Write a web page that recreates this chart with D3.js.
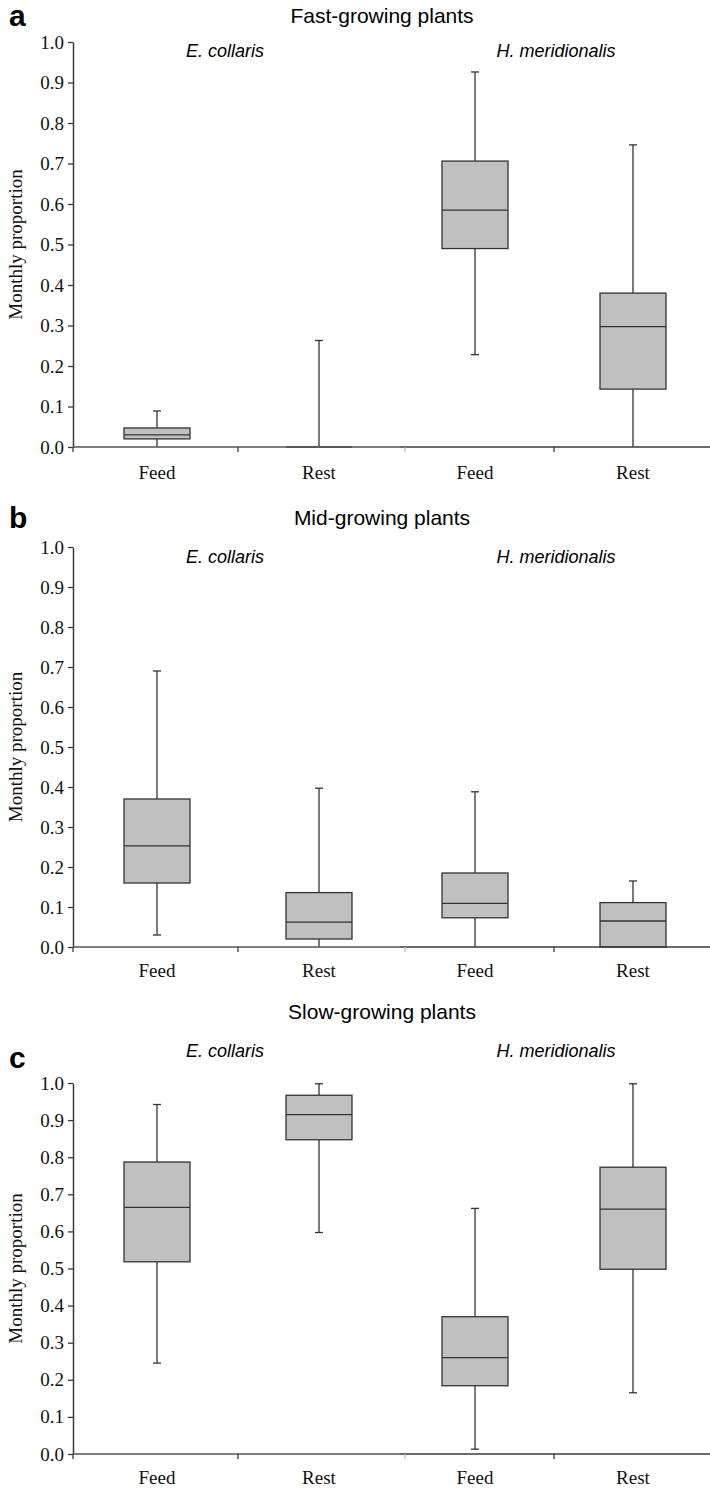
<!DOCTYPE html>
<html>
<head>
<meta charset="utf-8">
<script src="https://cdn.jsdelivr.net/npm/d3@7/dist/d3.min.js"></script>
<style>
  html, body { margin: 0; padding: 0; background: #fff; }
  svg { display: block; }
</style>
</head>
<body>
<svg id="chart" width="710" height="1488"></svg>
<script>
// ---------- data ----------
const panelLetters = ["a", "b", "c"];
const panelTitles = ["Fast-growing plants", "Mid-growing plants", "Slow-growing plants"];
const speciesNames = ["E. collaris", "H. meridionalis"];
const behaviours = ["Feed", "Rest"];
const yTickValues = [0, 0.1, 0.2, 0.3, 0.4, 0.5, 0.6, 0.7, 0.8, 0.9, 1.0];
const yAxisLabel = "Monthly proportion";

// box stats: [min, q1, median, q3, max]; order: E.Feed, E.Rest, H.Feed, H.Rest
const fastStats = [
  [0.000, 0.020, 0.030, 0.047, 0.089],
  [0.000, 0.000, 0.000, 0.000, 0.263],
  [0.228, 0.490, 0.585, 0.706, 0.926],
  [0.000, 0.143, 0.297, 0.380, 0.746]
];
const midStats = [
  [0.030, 0.160, 0.253, 0.370, 0.690],
  [0.000, 0.020, 0.062, 0.136, 0.397],
  [0.000, 0.073, 0.109, 0.185, 0.388],
  [0.000, 0.000, 0.065, 0.111, 0.165]
];
const slowStats = [
  [0.245, 0.518, 0.665, 0.787, 0.942],
  [0.597, 0.847, 0.915, 0.967, 0.998],
  [0.013, 0.184, 0.260, 0.370, 0.662],
  [0.165, 0.498, 0.660, 0.773, 0.998]
];
const allStats = [fastStats, midStats, slowStats];

// ---------- layout (not data) ----------
const layout = [
  { top: 42,   bottom: 447,  titleY: 23,   speciesY: 57,   letterY: 26,   xLabY: 479 },
  { top: 547,  bottom: 947,  titleY: 525,  speciesY: 563,  letterY: 528,  xLabY: 977 },
  { top: 1083, bottom: 1454, titleY: 1019, speciesY: 1057, letterY: 1068, xLabY: 1484 }
];
const axisX = 73, rightEdge = 710, breakX = 405;
const groupRanges = [[76, 400], [396, 712]];
const boxW = 66, capW = 8;
const strokeCol = "#333";
const axisCol = "#3a3a3a";
const boxFill = "#c0c0c0";
const serif = "'Liberation Serif','Times New Roman',serif";
const sans = "'Liberation Sans',Arial,sans-serif";

const svg = d3.select("#chart");

allStats.forEach((stats, pi) => {
  const L = layout[pi];
  const g = svg.append("g");
  const y = d3.scaleLinear().domain([0, 1]).range([L.bottom, L.top]);
  const xScales = groupRanges.map(r => d3.scaleBand().domain(behaviours).range(r));

  // Panel letter
  g.append("text").attr("x", 9).attr("y", L.letterY)
    .attr("font-family", sans).attr("font-weight", "bold").attr("font-size", 30)
    .attr("fill", "#000").text(panelLetters[pi]);

  // Title
  g.append("text").attr("x", 382).attr("y", L.titleY).attr("text-anchor", "middle")
    .attr("font-family", sans).attr("font-size", 21).attr("fill", "#000")
    .text(panelTitles[pi]);

  // Species labels
  speciesNames.forEach((s, si) => {
    const r = groupRanges[si];
    const cx = si === 0 ? 225 : 556;
    g.append("text").attr("x", cx).attr("y", L.speciesY).attr("text-anchor", "middle")
      .attr("font-family", sans).attr("font-style", "italic").attr("font-size", 18)
      .attr("fill", "#000").text(s);
  });

  // Y axis
  const yAxis = d3.axisLeft(y).tickValues(yTickValues).tickFormat(d3.format(".1f"))
    .tickSize(5).tickSizeOuter(0).tickPadding(4);
  const ya = g.append("g").attr("transform", `translate(${axisX},0)`).call(yAxis);
  ya.select(".domain").attr("stroke", axisCol).attr("stroke-width", 1.5);
  ya.selectAll(".tick line").attr("stroke", axisCol).attr("stroke-width", 1.3);
  ya.selectAll(".tick text").attr("font-family", serif).attr("font-size", 19).attr("fill", "#111");

  // Y axis label
  g.append("text")
    .attr("transform", `translate(22,${(L.top + L.bottom) / 2}) rotate(-90)`)
    .attr("text-anchor", "middle").attr("font-family", serif).attr("font-size", 19)
    .attr("fill", "#111").text(yAxisLabel);

  // Boxes
  stats.forEach((st, bi) => {
    const si = Math.floor(bi / 2);
    const xs = xScales[si];
    const cx = xs(behaviours[bi % 2]) + xs.bandwidth() / 2;
    const [mn, q1, md, q3, mx] = st;
    const bg = g.append("g");
    // whisker
    bg.append("line").attr("x1", cx).attr("x2", cx).attr("y1", y(mx)).attr("y2", y(mn))
      .attr("stroke", strokeCol).attr("stroke-width", 1.3);
    // caps
    [mx, mn].forEach(v => {
      if (v > 0.001) {
        bg.append("line").attr("x1", cx - capW / 2).attr("x2", cx + capW / 2)
          .attr("y1", y(v)).attr("y2", y(v)).attr("stroke", strokeCol).attr("stroke-width", 1.3);
      }
    });
    // box
    bg.append("rect").attr("x", cx - boxW / 2).attr("y", y(q3))
      .attr("width", boxW).attr("height", Math.max(0, y(q1) - y(q3)))
      .attr("fill", boxFill).attr("stroke", strokeCol).attr("stroke-width", 1.3);
    // median
    bg.append("line").attr("x1", cx - boxW / 2).attr("x2", cx + boxW / 2)
      .attr("y1", y(md)).attr("y2", y(md)).attr("stroke", strokeCol).attr("stroke-width", 1.3);
  });

  // X axis (two groups joined)
  xScales.forEach((xs, si) => {
    const xa = d3.axisBottom(xs).tickSize(0).tickPadding(0);
    const gx = g.append("g").attr("transform", `translate(0,${L.bottom})`).call(xa);
    gx.select(".domain").remove();
    gx.selectAll(".tick text").attr("font-family", serif).attr("font-size", 19)
      .attr("fill", "#111").attr("dy", null)
      .attr("y", L.xLabY - L.bottom);
  });
  g.append("line").attr("x1", axisX).attr("x2", breakX - 5).attr("y1", L.bottom).attr("y2", L.bottom)
    .attr("stroke", "#555").attr("stroke-width", 1.5);
  g.append("line").attr("x1", breakX - 5).attr("x2", rightEdge).attr("y1", L.bottom).attr("y2", L.bottom)
    .attr("stroke", axisCol).attr("stroke-width", 1.5);
  // tick marks below axis: left end, group dividers
  const tickXs = [axisX, xScales[0](behaviours[1]), xScales[1](behaviours[1])];
  tickXs.forEach(tx => {
    g.append("line").attr("x1", tx).attr("x2", tx).attr("y1", L.bottom).attr("y2", L.bottom + 5)
      .attr("stroke", axisCol).attr("stroke-width", 1.3);
  });
  g.append("line").attr("x1", breakX).attr("x2", breakX).attr("y1", L.bottom).attr("y2", L.bottom + 5)
    .attr("stroke", "#bbb").attr("stroke-width", 1.3);
});
</script>
</body>
</html>
